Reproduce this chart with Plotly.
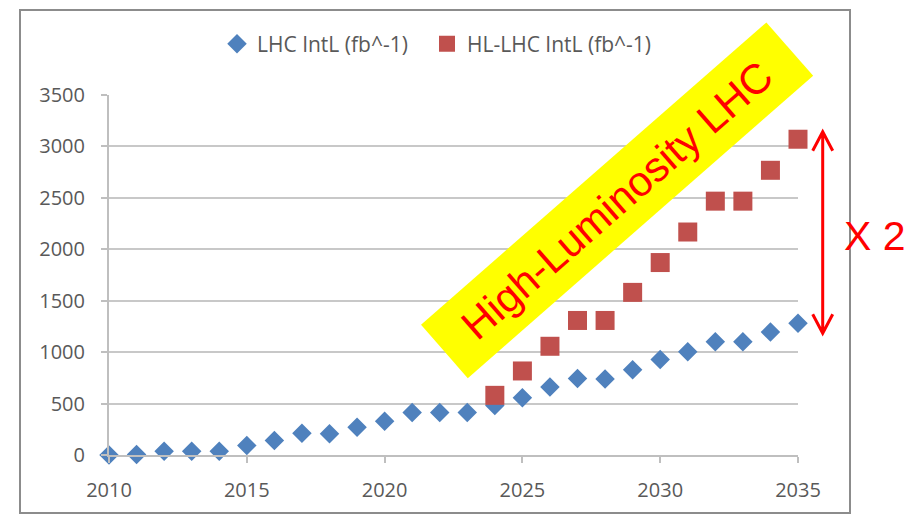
import plotly.graph_objects as go

# ---- data ----
lhc_years = list(range(2010, 2036))
lhc_intl = [0, 5, 36, 36, 36, 92, 140, 212, 206, 271, 327, 412, 412, 412, 482,
            557, 661, 743, 738, 830, 928, 1005, 1100, 1100, 1195, 1280]
hl_years = list(range(2024, 2036))
hl_intl = [580, 817, 1057, 1308, 1308, 1581, 1871, 2168, 2468, 2468, 2768, 3070]
x_ticks = [2010, 2015, 2020, 2025, 2030, 2035]
y_ticks = [0, 500, 1000, 1500, 2000, 2500, 3000, 3500]

W, H = 912, 515
ML, MR, MT, MB = 109, 114, 95, 60
PW, PH = W - ML - MR, H - MT - MB


def px(x):
    return (x - ML) / PW


def py(y):
    return (H - MB - y) / PH


FONT = "Open Sans"
GREY_TXT = "#595959"

fig = go.Figure()
fig.add_trace(go.Scatter(
    x=lhc_years, y=lhc_intl, mode="markers", name="LHC IntL (fb^-1)",
    marker=dict(symbol="diamond", size=15, color="#4F81BD"),
    cliponaxis=False, legend="legend"))
fig.add_trace(go.Scatter(
    x=hl_years, y=hl_intl, mode="markers", name="HL-LHC IntL (fb^-1)",
    marker=dict(symbol="square", size=19, color="#C0504D"),
    cliponaxis=False, legend="legend2"))

# red double arrow (open chevrons)
ax = 822.7
top, bot = 131.7, 333.3
path = (f"M {px(ax)},{py(top)} L {px(ax)},{py(bot)} "
        f"M {px(ax-10)},{py(top+19)} L {px(ax)},{py(top)} L {px(ax+10)},{py(top+19)} "
        f"M {px(ax-10)},{py(bot-19)} L {px(ax)},{py(bot)} L {px(ax+10)},{py(bot-19)}")

legend_common = dict(orientation="h", xanchor="left", y=py(44), yanchor="middle",
                     font=dict(family=FONT, size=21, color=GREY_TXT),
                     itemwidth=30, tracegroupgap=0, bgcolor="rgba(0,0,0,0)")

fig.update_layout(
    width=W, height=H, autosize=False,
    margin=dict(l=ML, r=MR, t=MT, b=MB),
    paper_bgcolor="white", plot_bgcolor="white",
    font=dict(family=FONT, size=20, color=GREY_TXT),
    showlegend=True,
    legend=dict(x=px(217), **legend_common),
    legend2=dict(x=px(427), **legend_common),
    xaxis=dict(range=[2010, 2035], tickvals=x_ticks, ticktext=[str(v) for v in x_ticks],
               showgrid=False, zeroline=False, showline=True, linecolor="#BFBFBF", linewidth=2,
               ticks="outside", ticklen=6, tickwidth=1.5, tickcolor="#BFBFBF",
               ticklabelstandoff=10, tickfont=dict(family=FONT, size=20, color=GREY_TXT)),
    yaxis=dict(range=[0, 3500], tickvals=y_ticks, ticktext=[str(v) for v in y_ticks],
               showgrid=True, gridcolor="#C8C8C8", gridwidth=2, zeroline=False,
               showline=True, linecolor="#BFBFBF", linewidth=2,
               ticks="outside", ticklen=6, tickwidth=1.5, tickcolor="#BFBFBF",
               ticklabelstandoff=12, tickfont=dict(family=FONT, size=20, color=GREY_TXT)),
    shapes=[
        dict(type="rect", xref="paper", yref="paper", x0=px(20), x1=px(850), y0=py(513), y1=py(10),
             line=dict(color="#8C8C8C", width=2), fillcolor="rgba(0,0,0,0)", layer="below"),
        dict(type="path", xref="paper", yref="paper", path=path,
             line=dict(color="#FF0000", width=3)),
    ],
    annotations=[
        dict(xref="paper", yref="paper", x=px(617.4), y=py(200), xanchor="center", yanchor="middle",
             text="High-Luminosity LHC", showarrow=False, textangle=-41.2,
             font=dict(family="Liberation Sans", size=42, color="#FF0000"),
             bgcolor="#FFFF00", width=458, height=70, borderpad=0),
        dict(xref="paper", yref="paper", x=px(875), y=py(236), xanchor="center", yanchor="middle",
             text="X 2", showarrow=False,
             font=dict(family="Liberation Sans", size=41, color="#FF0000")),
    ],
)

fig.write_html("out.html", config={"displayModeBar": False},
               post_script="document.body.style.margin='0';document.body.style.padding='0';"
                           "document.body.style.overflow='hidden';")
